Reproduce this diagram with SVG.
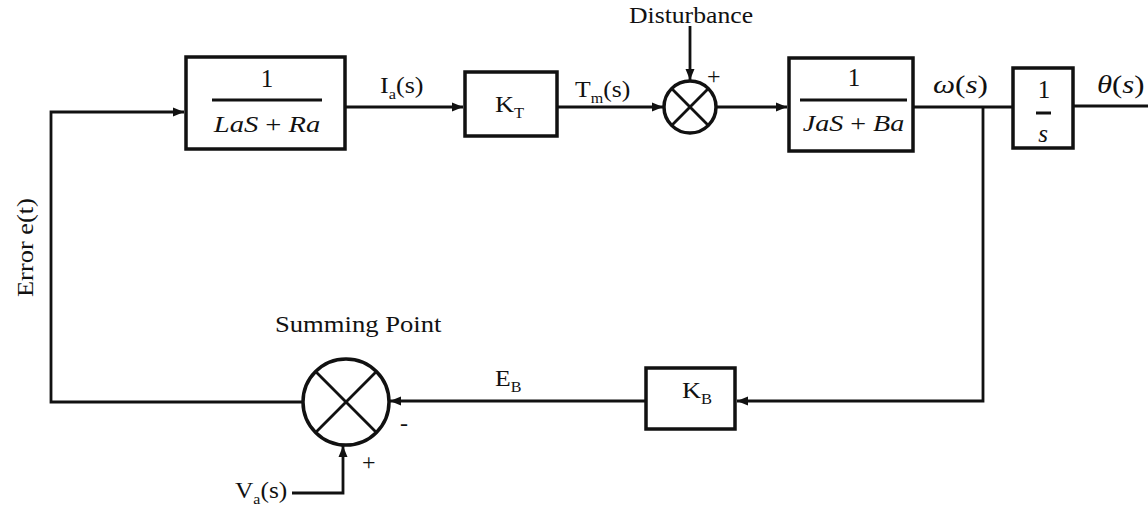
<svg xmlns="http://www.w3.org/2000/svg" width="1148" height="510" viewBox="0 0 1148 510">
<style>
.box{fill:#fff;stroke:#111;stroke-width:3.5}
.ln{fill:none;stroke:#111;stroke-width:2.8}
.bar{stroke:#111;stroke-width:3}
.t{font-family:"Liberation Serif","Times New Roman",serif;font-size:24px;fill:#111}
.m{font-family:"Liberation Serif","Times New Roman",serif;font-size:24px;fill:#111}
.i{font-style:italic}
.n{font-family:"Liberation Serif","Times New Roman",serif;font-size:25px;fill:#111}
.sub{font-size:15px}
</style>
<defs>
<marker id="ah" markerUnits="userSpaceOnUse" markerWidth="12" markerHeight="10" refX="11" refY="5" orient="auto">
<path d="M0,0.5 L11,5 L0,9.5 z" fill="#111"/>
</marker>
</defs>
<rect width="1148" height="510" fill="#fff"/>
<g id="connectors">
<polyline class="ln" points="303,402 51,402 51,112 184,112" marker-end="url(#ah)"/>
<line class="ln" x1="345" y1="107" x2="463" y2="107" marker-end="url(#ah)"/>
<line class="ln" x1="557" y1="107" x2="663" y2="107" marker-end="url(#ah)"/>
<line class="ln" x1="690" y1="26" x2="690" y2="80" marker-end="url(#ah)"/>
<line class="ln" x1="716" y1="107" x2="787" y2="107" marker-end="url(#ah)"/>
<line class="ln" x1="913" y1="107" x2="1013" y2="107"/>
<line class="ln" x1="1073" y1="106" x2="1148" y2="106"/>
<polyline class="ln" points="983,107 983,401 737,401" marker-end="url(#ah)"/>
<line class="ln" x1="646" y1="401" x2="390" y2="401" marker-end="url(#ah)"/>
<polyline class="ln" points="292,493 343,493 343,446" marker-end="url(#ah)"/>
</g>
<g id="block1">
<rect class="box" x="186" y="57" width="159" height="92"/>
<text class="n" x="267" y="87" text-anchor="middle">1</text>
<line class="bar" x1="212" y1="100" x2="322" y2="100"/>
<text class="m" transform="translate(267 132) scale(1.19 1)" text-anchor="middle"><tspan class="i">LaS</tspan> + <tspan class="i">Ra</tspan></text>
</g>
<g id="kt">
<rect class="box" x="465" y="72" width="92" height="64"/>
<text class="t" transform="translate(495 112) scale(1.1 1)">K<tspan class="sub" dy="6">T</tspan></text>
</g>
<g id="sum1">
<circle class="box" cx="690" cy="107" r="26"/>
<line class="ln" x1="671.6" y1="88.6" x2="708.4" y2="125.4"/>
<line class="ln" x1="708.4" y1="88.6" x2="671.6" y2="125.4"/>
<text class="t" x="707" y="84" font-size="20">+</text>
</g>
<g id="block2">
<rect class="box" x="789" y="58" width="124" height="93"/>
<text class="n" x="854" y="86" text-anchor="middle">1</text>
<line class="bar" x1="800" y1="100" x2="907" y2="100"/>
<text class="m" transform="translate(853.5 131) scale(1.17 1)" text-anchor="middle"><tspan class="i">JaS</tspan> + <tspan class="i">Ba</tspan></text>
</g>
<g id="block3">
<rect class="box" x="1013" y="68" width="60" height="80"/>
<text class="n" x="1044" y="98" text-anchor="middle">1</text>
<line class="bar" x1="1036" y1="113" x2="1051" y2="113"/>
<text class="n i" x="1043" y="142" text-anchor="middle">s</text>
</g>
<g id="kb">
<rect class="box" x="646" y="368" width="89" height="61"/>
<text class="t" transform="translate(682 398) scale(1.1 1)">K<tspan class="sub" dy="6">B</tspan></text>
</g>
<g id="sum2">
<circle class="box" cx="346" cy="402" r="43"/>
<line class="ln" x1="315.6" y1="371.6" x2="376.4" y2="432.4"/>
<line class="ln" x1="376.4" y1="371.6" x2="315.6" y2="432.4"/>
<text class="t" x="400" y="431" font-size="20">-</text>
<text class="t" x="362" y="470" font-size="20">+</text>
</g>
<g id="labels">
<text class="t" transform="translate(629 23) scale(1.07 1)">Disturbance</text>
<text class="t" transform="translate(275 332) scale(1.11 1)">Summing Point</text>
<text class="t" transform="translate(33 297) rotate(-90) scale(1.1 1)">Error e(t)</text>
<text class="t" transform="translate(380 93) scale(1.09 1)">I<tspan class="sub" dy="6">a</tspan><tspan dy="-6">(s)</tspan></text>
<text class="t" transform="translate(575 97) scale(1.07 1)">T<tspan class="sub" dy="6">m</tspan><tspan dy="-6">(s)</tspan></text>
<text class="t" transform="translate(495 386) scale(1.07 1)">E<tspan class="sub" dy="6">B</tspan></text>
<text class="t" transform="translate(235 498) scale(1.06 1)">V<tspan class="sub" dy="6">a</tspan><tspan dy="-6">(s)</tspan></text>
<text class="n" transform="translate(933 93) scale(1.25 1)"><tspan class="i">ω</tspan>(<tspan class="i">s</tspan>)</text>
<text class="n" transform="translate(1097 93) scale(1.23 1)"><tspan class="i">θ</tspan>(<tspan class="i">s</tspan>)</text>
</g>
</svg>
